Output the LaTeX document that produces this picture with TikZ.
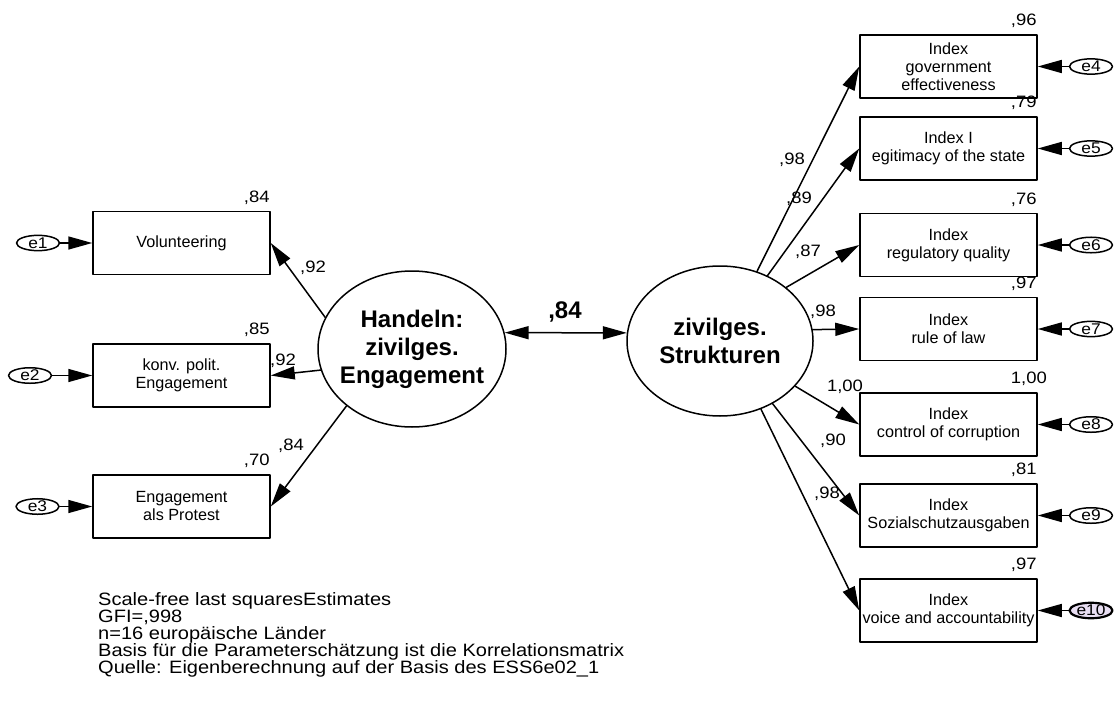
\documentclass[tikz,border=0pt]{standalone}
\usepackage{fontspec}
\setmainfont{Liberation Sans}
\newfontfamily\amosfont[FakeStretch=1.12]{Liberation Sans}
\usetikzlibrary{arrows.meta,shapes.geometric}
\definecolor{selfill}{RGB}{232,222,242}
\begin{document}
\begin{tikzpicture}[line cap=round,line join=round,>={Triangle[length=24pt,width=13pt]},x=1pt,y=-1pt,
  box/.style={draw,line width=1.5pt,minimum width=177pt,minimum height=63pt,align=center,inner xsep=1pt,inner ysep=2pt,font=\fontsize{16.2}{18}\selectfont},
  lat/.style={draw,ellipse,line width=1.5pt,inner sep=0pt},
  lattxt/.style={align=center,inner sep=0pt,font=\bfseries\fontsize{24}{28}\selectfont},
  err/.style={draw,ellipse,line width=1.5pt,minimum width=43pt,minimum height=14pt,inner sep=0pt,font=\amosfont\fontsize{15.5}{15}\selectfont},
  val/.style={inner sep=0pt,font=\amosfont\fontsize{16.5}{16}\selectfont},
  conn/.style={->,line width=1.5pt}]
\useasboundingbox (0,0) rectangle (1116,706);
% latent variables
\node[lat,minimum width=188pt,minimum height=156pt] (L) at (412,349) {};
\node[lattxt] (Ltxt) at (L) {Handeln:\\zivilges.\\Engagement};
\node[lat,minimum width=186pt,minimum height=150pt] (R) at (720,341) {};
\node[lattxt] (Rtxt) at (R) {zivilges.\\Strukturen};
\draw[<->,line width=1.5pt] (L.10) -- (R.175);
\node[lattxt,font=\bfseries\fontsize{24}{24}\selectfont] (cov) at (565,312) {,84};
% left indicators
\foreach \n/\yy/\ex/\txt/\rsq in {1/243/38/{Volunteering}/{,84},2/375.5/30/{konv. polit.\\Engagement}/{,85},3/506.5/37.5/{Engagement\\als Protest}/{,70}}
{
  \node[box] (b\n) at (181.5,\yy) {\txt};
  \node[val,anchor=base west] (b\n sq) at ([xshift=-27pt,yshift=8.5pt]b\n.north east) {\rsq};
  \node[err] (e\n) at (\ex,\yy) {e\n};
  \draw[conn] (e\n.east) -- (b\n.west);
}
\foreach \n/\ang/\lx/\ly/\load in {1/160/313/268/{,92},2/193/283/361/{,92},3/221/291/446/{,84}}
{
  \draw[conn] (L.\ang) -- (b\n.east);
  \node[val] (bl\n) at (\lx,\ly) {\load};
}
% right indicators
\foreach \n/\yy/\txt/\rsq/\ef/\elw [evaluate=\n as \m using int(\n+3)] in {1/66.5/{Index\\government\\effectiveness}/{,96}/white/1.5pt,
  2/148.5/{Index I\\egitimacy of the state}/{,79}/white/1.5pt,
  3/245/{Index\\regulatory quality}/{,76}/white/1.5pt,
  4/329/{Index\\rule of law}/{,97}/white/1.5pt,
  5/424.5/{Index\\control of corruption}/{1,00}/white/1.5pt,
  6/515.5/{Index\\Sozialschutzausgaben}/{,81}/white/1.5pt,
  7/610.5/{Index\\voice and accountability}/{,97}/selfill/2.2pt}
{
  \node[box] (r\n) at (948.5,\yy) {\txt};
  \node[val,anchor=base west] (r\n sq) at ([xshift=-27pt,yshift=8.5pt]r\n.north east) {\rsq};
  \node[err,fill=\ef,line width=\elw] (e\m) at (1091,\yy) {e\m};
  \draw[conn] (e\m.west) -- (r\n.east);
}
\foreach \n/\ang/\lx/\ly/\load in {1/62/792/160/{,98},2/54/799/199/{,89},3/39/808/252/{,87},4/7/823/312/{,98},5/-31.5/845/387/{1,00},6/-50.4/833/441/{,90},7/-59.9/827/494/{,98}}
{
  \draw[conn] (R.\ang) -- (r\n.west);
  \node[val] (rl\n) at (\lx,\ly) {\load};
}
% notes
\node[anchor=north west,align=left,inner sep=0pt,font=\amosfont\fontsize{17.9}{17.2}\selectfont] (note) at (98,592) {Scale-free last squaresEstimates\\GFI=,998\\n=16 europäische Länder\\Basis für die Parameterschätzung ist die Korrelationsmatrix\\Quelle: Eigenberechnung auf der Basis des ESS6e02\_1};
\end{tikzpicture}
\end{document}
